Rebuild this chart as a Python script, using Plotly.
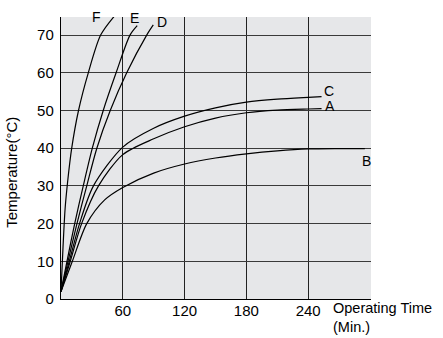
import plotly.graph_objects as go

# Temperature rise curves (time in minutes, temperature in °C)
f_time = [0, 2, 4, 6.4, 10.4, 17, 26.5, 38.5, 51.7]
f_temp = [2, 14, 24, 31, 40, 50, 60, 70, 75]

e_time = [0, 5.8, 13.3, 21.6, 30.4, 41, 53.5, 67, 74]
e_temp = [2, 10, 20, 30, 40, 50, 60, 70, 72.5]

d_time = [0, 6.8, 15.5, 25, 34.8, 47.8, 63.8, 83.2, 89.6]
d_temp = [2, 10, 20, 30, 40, 50, 60, 70, 72.7]

c_time = [0, 8, 18, 31.5, 60, 90, 120, 150, 180, 210, 240, 253]
c_temp = [2, 10, 20, 30, 40.3, 45.3, 48.5, 50.7, 52.2, 53.0, 53.5, 53.7]

a_time = [0, 9, 20, 36.4, 60, 90, 120, 150, 180, 210, 240, 253]
a_temp = [2, 10, 20, 30, 38.3, 42.5, 45.7, 48.0, 49.4, 50.1, 50.4, 50.5]

b_time = [0, 11, 25, 42.4, 60, 90, 120, 150, 180, 210, 240, 270, 295]
b_temp = [2, 10, 20, 26.3, 29.6, 33.4, 35.8, 37.4, 38.5, 39.3, 39.8, 39.9, 39.9]

curve_names = ["F", "E", "D", "C", "A", "B"]
curve_data = [(f_time, f_temp), (e_time, e_temp), (d_time, d_temp),
              (c_time, c_temp), (a_time, a_temp), (b_time, b_temp)]

# Curve label positions: (time, vertical position, vertical reference)
label_pos = {"F": (34.7, 0.999, "paper"), "E": (71.2, 0.996, "paper"),
             "D": (98.5, 0.982, "paper"), "C": (260.4, 55.2, "y"),
             "A": (260.7, 51.3, "y"), "B": (297, 36.7, "y")}

x_ticks = [60, 120, 180, 240]
y_ticks = [0, 10, 20, 30, 40, 50, 60, 70]

FONT = "Liberation Sans, Arial, Helvetica, sans-serif"

fig = go.Figure()
for name, (t, v) in zip(curve_names, curve_data):
    fig.add_trace(go.Scatter(
        x=t, y=v, mode="lines", name=name,
        line=dict(color="black", width=1.2, shape="spline", smoothing=0.8),
        showlegend=False, hoverinfo="skip",
    ))

annotations = []
for name in curve_names:
    lx, ly, yr = label_pos[name]
    annotations.append(dict(x=lx, y=ly, xref="x", yref=yr, text=name,
                            xanchor="center", yanchor="middle", showarrow=False,
                            font=dict(size=14, color="black", family=FONT)))

annotations += [
    dict(x=262.0, y=-0.064, xref="x", yref="paper", text="Operating Time<br>(Min.)",
         xanchor="left", yanchor="middle", align="left", showarrow=False,
         font=dict(size=14.5, color="black", family=FONT)),
    dict(x=-0.16, y=0.449, xref="paper", yref="paper", text="Temperature(°C)",
         textangle=-90, xanchor="center", yanchor="middle", showarrow=False,
         font=dict(size=15, color="black", family=FONT)),
]

fig.update_layout(
    width=443, height=338,
    margin=dict(l=61, r=72, t=17, b=39),
    paper_bgcolor="white",
    plot_bgcolor="#e6e7e9",
    font=dict(family=FONT, size=15, color="black"),
    annotations=annotations,
    xaxis=dict(
        range=[0, 301], tickvals=x_ticks, ticktext=[str(v) for v in x_ticks],
        showgrid=True, gridcolor="#222222", gridwidth=1.4,
        zeroline=False, showline=True, linecolor="black", linewidth=1.4,
        ticks="", ticklabelstandoff=-2, fixedrange=True,
    ),
    yaxis=dict(
        range=[0, 74.8], tickvals=y_ticks, ticktext=[str(v) for v in y_ticks],
        showgrid=True, gridcolor="#3a3a3a", gridwidth=1.4,
        zeroline=False, showline=True, linecolor="black", linewidth=1.4,
        ticks="", ticklabelstandoff=3, fixedrange=True,
    ),
)

fig.write_html("out.html")
